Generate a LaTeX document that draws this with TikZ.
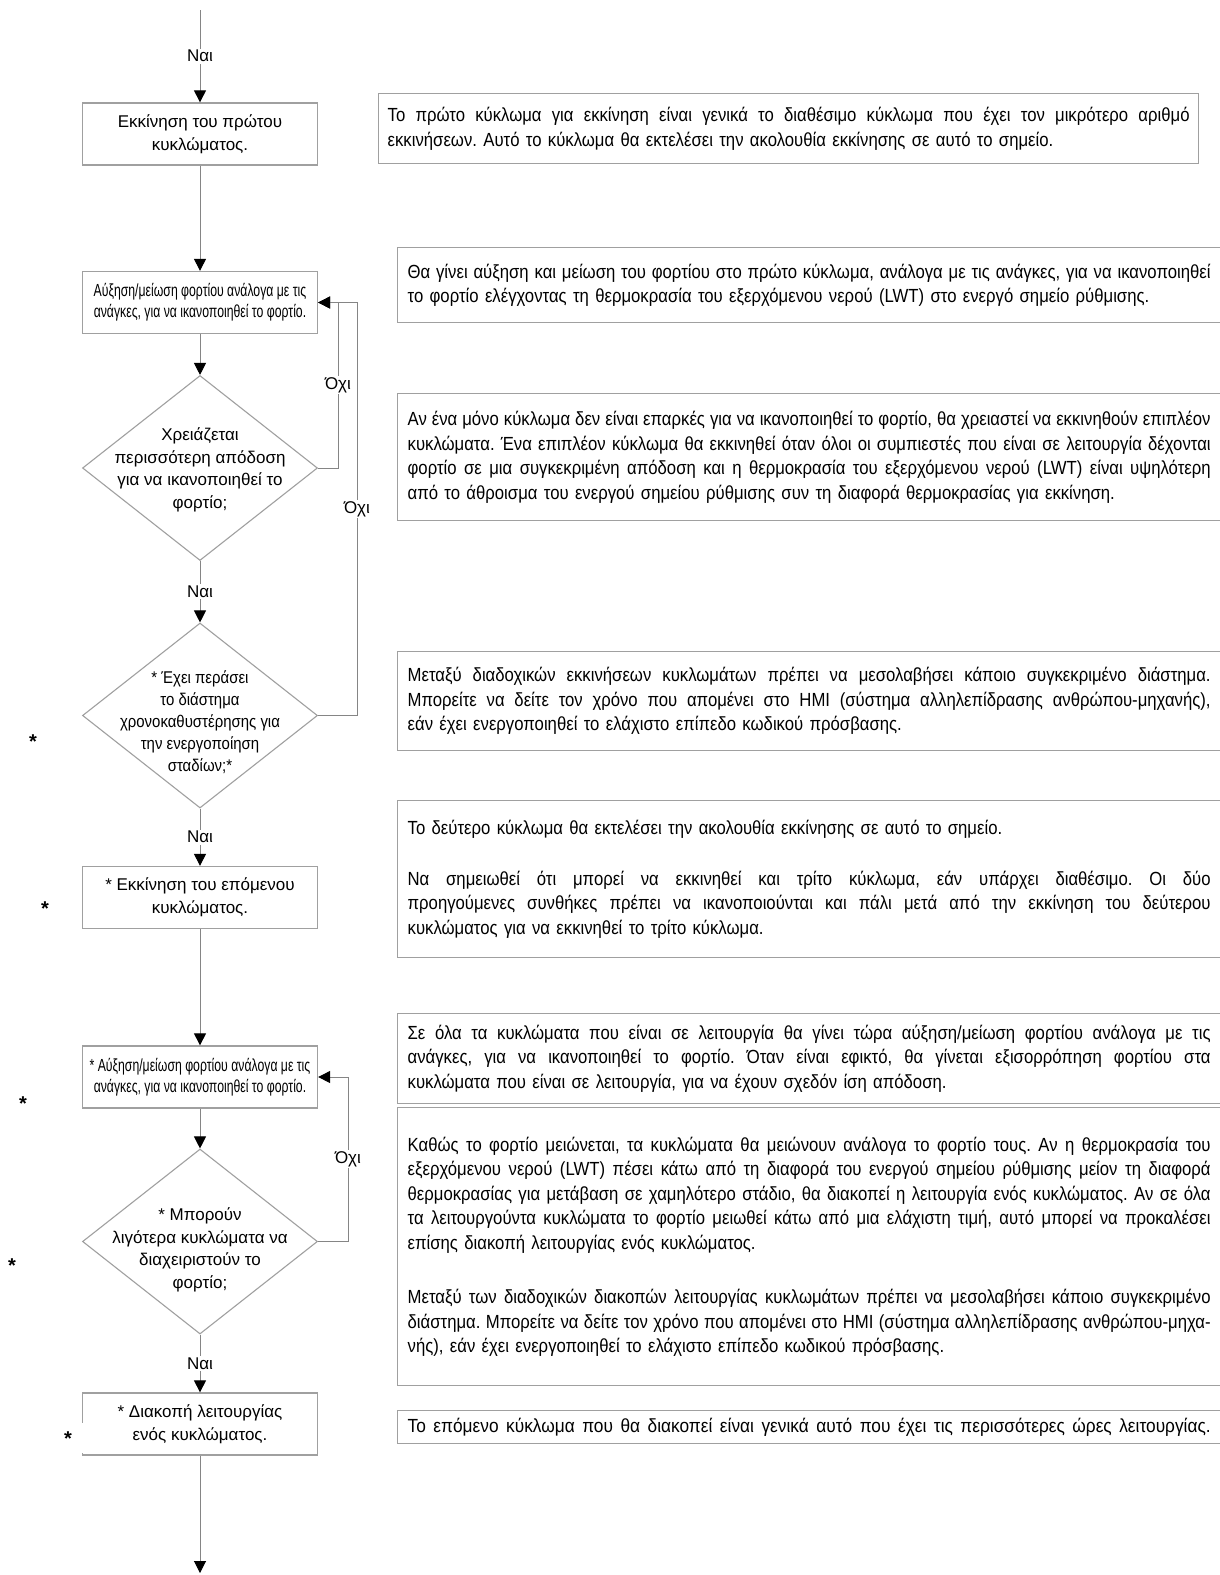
\documentclass[tikz,border=0pt]{standalone}
\usepackage{fontspec}
\setmainfont{Liberation Sans}
\newfontfamily\nar[FakeStretch=0.88]{Liberation Sans}
\newfontfamily\narb[FakeStretch=0.91]{Liberation Sans}
\newfontfamily\nnar[FakeStretch=0.7]{Liberation Sans}
\usetikzlibrary{shapes.geometric,arrows.meta}
\definecolor{bordc}{HTML}{A0A0A0}
\definecolor{linec}{HTML}{858585}
\frenchspacing
\newcommand\jb[2][803pt]{\leavevmode\hbox to #1{\spaceskip=\fontdimen2\font plus 1fil minus .3\fontdimen2\font\relax #2}}
\newcommand\jl[2][803pt]{\jb[#1]{#2}\\}
\begin{document}
\begin{tikzpicture}[x=1pt,y=-1pt,
  fbox/.style={draw=bordc, line width=1.3pt, minimum width=235pt, minimum height=62pt, inner sep=0pt, align=center, font=\fontsize{17}{23}\selectfont},
  nbox/.style={fbox, font=\nnar\fontsize{17.5}{21}\selectfont},
  dia/.style={diamond, draw=bordc, line width=1.1pt, minimum width=235pt, minimum height=185pt, inner sep=0pt},
  diat/.style={align=center, font=\fontsize{17}{22.5}\selectfont, inner sep=0pt},
  rbox/.style={draw=bordc, line width=1.3pt, anchor=north west, text width=805pt, inner xsep=10pt, inner ysep=0pt, align=left, font=\nar\fontsize{19}{24.5}\selectfont},
  flow/.style={draw=linec, line width=1pt, -{Triangle[length=12pt,width=12pt,color=black]}},
  lbl/.style={fill=white, inner sep=1.5pt, font=\fontsize{17}{20}\selectfont},
  starl/.style={font=\bfseries\fontsize{20}{20}\selectfont, inner sep=0pt}
]
\useasboundingbox (0,0) rectangle (1219,1575);
\fill[white] (0,0) rectangle (1219,1575);

% left column
\coordinate (top) at (200,10);
\node[fbox] (b1) at (200,134) {Εκκίνηση του πρώτου\\κυκλώματος.};
\node[nbox] (b2) at (200,302.5) {Αύξηση/μείωση φορτίου ανάλογα με τις\\ανάγκες, για να ικανοποιηθεί το φορτίο.};
\node[dia] (d1) at (200,468) {};
\node[diat] (d1t) at (200,470) {Χρειάζεται\\περισσότερη απόδοση\\για να ικανοποιηθεί το\\φορτίο;};
\node[dia] (d2) at (200,715.5) {};
\node[diat, font=\nar\fontsize{17}{22}\selectfont] (d2t) at (200,722) {* Έχει περάσει\\το διάστημα\\χρονοκαθυστέρησης για\\την ενεργοποίηση\\σταδίων;*};
\node[fbox] (b3) at (200,897.5) {* Εκκίνηση του επόμενου\\κυκλώματος.};
\node[nbox] (b4) at (200,1077) {* Αύξηση/μείωση φορτίου ανάλογα με τις\\ανάγκες, για να ικανοποιηθεί το φορτίο.};
\node[dia] (d3) at (200,1241.5) {};
\node[diat] (d3t) at (200,1250) {* Μπορούν\\λιγότερα κυκλώματα να\\διαχειριστούν το\\φορτίο;};
\node[fbox] (b5) at (200,1424) {* Διακοπή λειτουργίας\\ενός κυκλώματος.};
\coordinate (bot) at (200,1573);

\draw[flow] (top) -- node[lbl]{Ναι} (b1);
\draw[flow] (b1) -- (b2);
\draw[flow] (b2) -- (d1);
\draw[flow] (d1) -- node[lbl]{Ναι} (d2);
\draw[flow] (d2) -- node[lbl]{Ναι} (b3);
\draw[flow] (b3) -- (b4);
\draw[flow] (b4) -- (d3);
\draw[flow] (d3) -- node[lbl]{Ναι} (b5);
\draw[flow] (b5) -- (bot);

\draw[flow] (d1.east) -- (338,468) -- node[lbl]{Όχι} (338,302.5) -- (b2.east);
\draw[flow] (d2.east) -- (357,715.5) -- node[lbl]{Όχι} (357,302.5) -- (b2.east);
\draw[flow] (d3.east) -- (348,1241.5) -- node[lbl]{Όχι} (348,1077) -- (b4.east);

% stars
\node[starl] (s1) at (33,742) {*};
\node[starl] (s2) at (45,909) {*};
\node[starl] (s3) at (23,1104) {*};
\node[starl] (s4) at (12,1266) {*};
\fill[white] (58,1423) rectangle (84,1453);
\node[starl] (s5) at (68,1439) {*};

% right column
\node[rbox, text width=802pt, inner xsep=9pt, minimum height=70pt, font=\nar\fontsize{19}{25}\selectfont] (t1) at (378,93) {\jl[802pt]{Το πρώτο κύκλωμα για εκκίνηση είναι γενικά το διαθέσιμο κύκλωμα που έχει τον μικρότερο αριθμό}εκκινήσεων. Αυτό το κύκλωμα θα εκτελέσει την ακολουθία εκκίνησης σε αυτό το σημείο.};
\node[rbox, minimum height=75pt] (t2) at (397,247) {\jl{Θα γίνει αύξηση και μείωση του φορτίου στο πρώτο κύκλωμα, ανάλογα με τις ανάγκες, για να ικανοποιηθεί}το φορτίο ελέγχοντας τη θερμοκρασία του εξερχόμενου νερού (LWT) στο ενεργό σημείο ρύθμισης.};
\node[rbox, minimum height=127pt] (t3) at (397,393) {\jl{Αν ένα μόνο κύκλωμα δεν είναι επαρκές για να ικανοποιηθεί το φορτίο, θα χρειαστεί να εκκινηθούν επιπλέον}\jl{κυκλώματα. Ένα επιπλέον κύκλωμα θα εκκινηθεί όταν όλοι οι συμπιεστές που είναι σε λειτουργία δέχονται}\jl{φορτίο σε μια συγκεκριμένη απόδοση και η θερμοκρασία του εξερχόμενου νερού (LWT) είναι υψηλότερη}από το άθροισμα του ενεργού σημείου ρύθμισης συν τη διαφορά θερμοκρασίας για εκκίνηση.};
\node[rbox, minimum height=99pt] (t4) at (397,651) {\jl{Μεταξύ διαδοχικών εκκινήσεων κυκλωμάτων πρέπει να μεσολαβήσει κάποιο συγκεκριμένο διάστημα.}\jl{Μπορείτε να δείτε τον χρόνο που απομένει στο HMI (σύστημα αλληλεπίδρασης ανθρώπου-μηχανής),}εάν έχει ενεργοποιηθεί το ελάχιστο επίπεδο κωδικού πρόσβασης.};
\node[rbox, minimum height=157pt] (t5) at (397,800) {Το δεύτερο κύκλωμα θα εκτελέσει την ακολουθία εκκίνησης σε αυτό το σημείο.\\[26pt]\jl{Να σημειωθεί ότι μπορεί να εκκινηθεί και τρίτο κύκλωμα, εάν υπάρχει διαθέσιμο. Οι δύο}\jl{προηγούμενες συνθήκες πρέπει να ικανοποιούνται και πάλι μετά από την εκκίνηση του δεύτερου}κυκλώματος για να εκκινηθεί το τρίτο κύκλωμα.};
\node[rbox, minimum height=90pt] (t6) at (397,1013) {\jl{Σε όλα τα κυκλώματα που είναι σε λειτουργία θα γίνει τώρα αύξηση/μείωση φορτίου ανάλογα με τις}\jl{ανάγκες, για να ικανοποιηθεί το φορτίο. Όταν είναι εφικτό, θα γίνεται εξισορρόπηση φορτίου στα}κυκλώματα που είναι σε λειτουργία, για να έχουν σχεδόν ίση απόδοση.};
\node[rbox, minimum height=278pt] (t7) at (397,1107) {\jl{Καθώς το φορτίο μειώνεται, τα κυκλώματα θα μειώνουν ανάλογα το φορτίο τους. Αν η θερμοκρασία του}\jl{εξερχόμενου νερού (LWT) πέσει κάτω από τη διαφορά του ενεργού σημείου ρύθμισης μείον τη διαφορά}\jl{θερμοκρασίας για μετάβαση σε χαμηλότερο στάδιο, θα διακοπεί η λειτουργία ενός κυκλώματος. Αν σε όλα}\jl{τα λειτουργούντα κυκλώματα το φορτίο μειωθεί κάτω από μια ελάχιστη τιμή, αυτό μπορεί να προκαλέσει}επίσης διακοπή λειτουργίας ενός κυκλώματος.\\[30pt]\jl{Μεταξύ των διαδοχικών διακοπών λειτουργίας κυκλωμάτων πρέπει να μεσολαβήσει κάποιο συγκεκριμένο}\jl{διάστημα. Μπορείτε να δείτε τον χρόνο που απομένει στο HMI (σύστημα αλληλεπίδρασης ανθρώπου-μηχα-}νής), εάν έχει ενεργοποιηθεί το ελάχιστο επίπεδο κωδικού πρόσβασης.\\[8pt]};
\node[rbox, minimum height=33pt, font=\narb\fontsize{19}{24.5}\selectfont] (t8) at (397,1410) {\jb{Το επόμενο κύκλωμα που θα διακοπεί είναι γενικά αυτό που έχει τις περισσότερες ώρες λειτουργίας.}};
\end{tikzpicture}
\end{document}
